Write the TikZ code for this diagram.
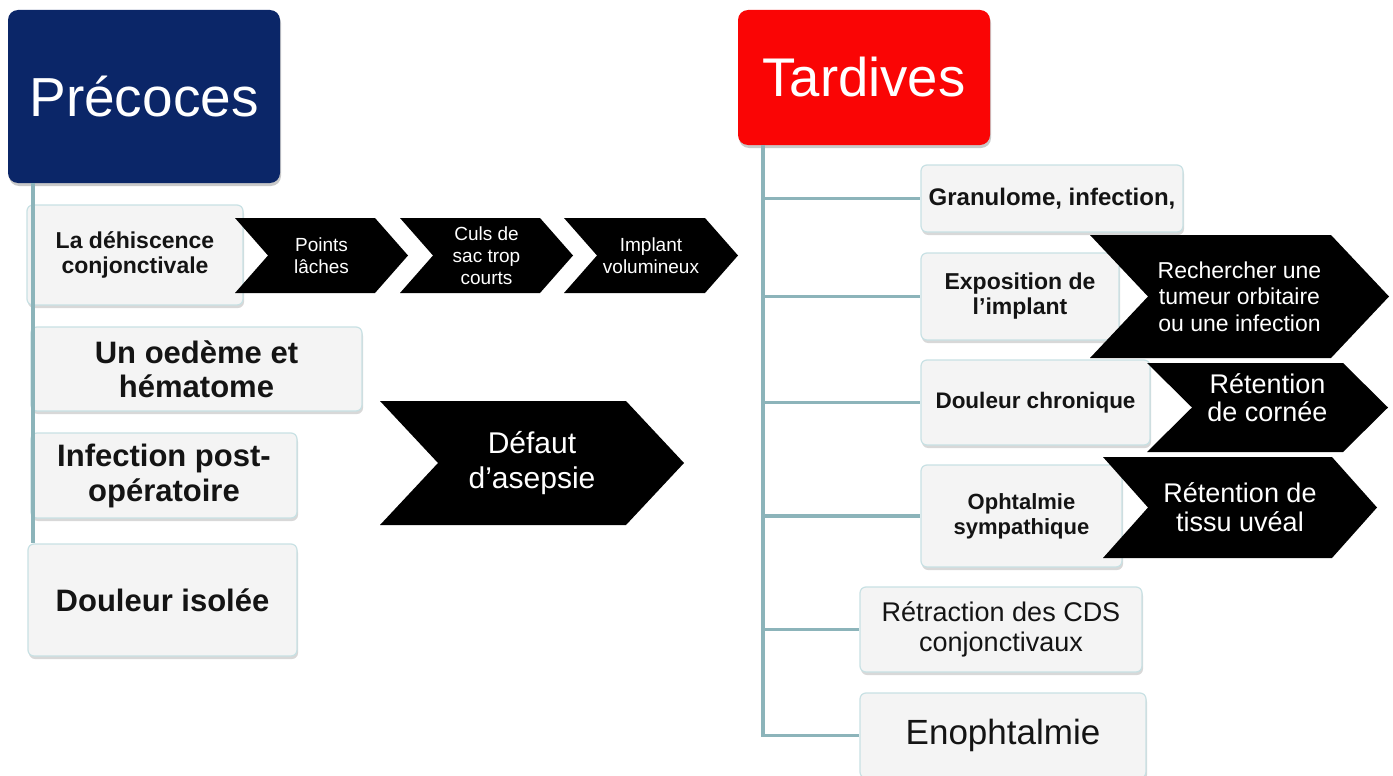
\documentclass[tikz,border=0pt]{standalone}
\usepackage{fontspec}
\setmainfont{Liberation Sans}
\usetikzlibrary{shadows}
\definecolor{navy}{RGB}{11,38,104}
\definecolor{hred}{RGB}{250,5,5}
\definecolor{boxfill}{RGB}{244,244,244}
\definecolor{boxline}{RGB}{200,225,228}
\definecolor{connc}{RGB}{140,180,186}
\definecolor{txt}{RGB}{20,20,20}
\tikzset{
  header/.style={rounded corners=10pt, text=white, inner sep=0pt,
    drop shadow={shadow xshift=1pt, shadow yshift=-3pt, opacity=0.35, fill=black!60}},
  boxst/.style={rounded corners=6pt, fill=boxfill, draw=boxline, line width=1.2pt,
    align=center, text=txt, inner sep=0pt,
    drop shadow={shadow xshift=1pt, shadow yshift=-3pt, opacity=0.3, fill=black!50}},
  chevfill/.style={fill=black},
  chevtxt/.style={text=white, align=center, inner sep=0pt},
  conn/.style={draw=connc, line width=3.5pt}
}
\newcommand\bx[7]{%
  \node[boxst, minimum width={#4-#2}, minimum height={#5-#3}, font=#6]
    (#1) at ({(#2+#4)/2},{(#3+#5)/2}) {#7};}
\newcommand\chv[9]{%
  \fill[chevfill] (#2,#3) -- ({#4-#6},#3) -- (#4,{(#3+#5)/2}) -- ({#4-#6},#5)
    -- (#2,#5) -- ({#2+#6},{(#3+#5)/2}) -- cycle;
  \node[chevtxt, font=#7] (#1) at ({(#2+#4)/2},{(#3+#5)/2+#9}) {#8};}
\begin{document}
\begin{tikzpicture}[x=1pt,y=-1pt]
\useasboundingbox[fill=white] (0,0) rectangle (1393,776);
% headers
\node[header, fill=navy, minimum width=272pt, minimum height=173pt,
  font=\fontsize{55}{60}\selectfont] (pre) at (144,96.5) {Précoces};
\node[header, fill=hred, minimum width=252pt, minimum height=135pt,
  font=\fontsize{54.5}{60}\selectfont] (tar) at (864,77.5) {Tardives};
% right trunk coordinate
\coordinate (trunk) at ([xshift=25pt]tar.south west);
% left boxes
\bx{l1}{27}{205}{243}{305}{\bfseries\fontsize{23}{25}\selectfont}{La déhiscence\\conjonctivale}
\bx{l2}{31}{327}{362}{411}{\bfseries\fontsize{31}{34}\selectfont}{Un oedème et\\hématome}
\bx{l3}{31}{433}{297}{518}{\bfseries\fontsize{31}{35}\selectfont}{Infection post-\\opératoire}
\bx{l4}{28}{544}{297}{656}{\bfseries\fontsize{31}{35}\selectfont}{Douleur isolée}
% left trunk
\draw[conn] ([xshift=25pt]pre.south west) -- ([xshift=25pt]pre.south west |- l4.north);
% right boxes
\bx{r1}{921}{165}{1183}{232}{\bfseries\fontsize{24}{27}\selectfont}{Granulome, infection,}
\bx{r2}{921}{253}{1119}{340}{\bfseries\fontsize{23}{25}\selectfont}{Exposition de\\l’implant}
\bx{r3}{921}{360}{1150}{445}{\bfseries\fontsize{22.5}{25}\selectfont}{Douleur chronique}
\bx{r4}{921}{465}{1122}{567}{\bfseries\fontsize{22}{25}\selectfont}{Ophtalmie\\sympathique}
\bx{r5}{860}{587}{1142}{672}{\fontsize{27}{30}\selectfont}{Rétraction des CDS\\conjonctivaux}
\bx{r6}{860}{693}{1146}{778}{\fontsize{35}{38}\selectfont}{Enophtalmie}
% right connectors
\draw[conn] (trunk) |- (r6.west);
\foreach \n in {r1,r2,r3,r4,r5} {\draw[conn] (\n.west -| trunk) -- (\n.west);}
% chevrons
\chv{c1}{235}{218}{408}{293}{33}{\fontsize{19}{22}\selectfont}{Points\\lâches}{0}
\chv{c2}{400}{218}{573}{293}{33}{\fontsize{19}{22}\selectfont}{Culs de\\sac trop\\courts}{0}
\chv{c3}{564}{218}{738}{293}{33}{\fontsize{19}{22}\selectfont}{Implant\\volumineux}{0}
\chv{c4}{380}{401}{684}{525}{58}{\fontsize{30}{35}\selectfont}{Défaut\\d’asepsie}{0}
\chv{c5}{1090}{235}{1389}{358}{58}{\fontsize{23}{26.5}\selectfont}{Rechercher une\\tumeur orbitaire\\ou une infection}{0}
\chv{c6}{1147}{363}{1388}{452}{45}{\fontsize{27}{28}\selectfont}{Rétention\\de cornée}{-10}
\chv{c7}{1103}{457}{1377}{558}{45}{\fontsize{27}{29}\selectfont}{Rétention de\\tissu uvéal}{0}
\end{tikzpicture}
\end{document}
